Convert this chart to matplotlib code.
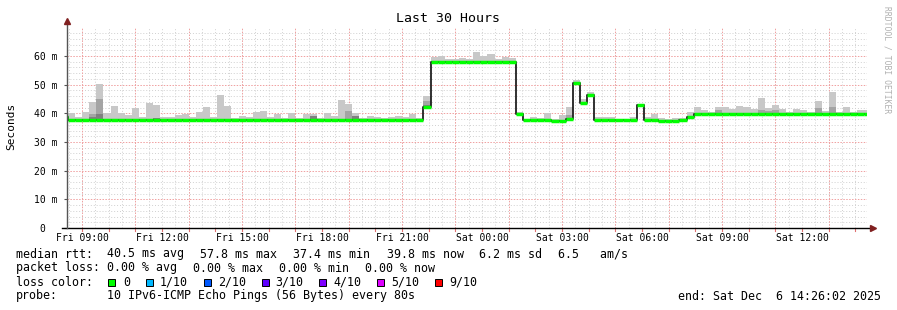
import numpy as np
import matplotlib
matplotlib.use('Agg')
import matplotlib.pyplot as plt
from matplotlib.patches import Rectangle

W, H = 897, 310
MONO = 'DejaVu Sans Mono'

# graph covers 30 hours ending Sat 14:26:02, rrd bins are 16 minutes,
# first bin boundary falls 118 s after the graph start
SPAN_HOURS = 30
START_HOUR = 8 + 26 / 60 + 2 / 3600      # Fri 08:26:02, hours after Fri 00:00
BIN_HOURS = 16 / 60
FIRST_EDGE = 118 / 3600

rtt_median = [
    38.6, 37.5, 37.5, 37.5, 37.5, 37.5, 37.5, 37.5, 37.5, 37.5,
    37.5, 37.5, 37.5, 37.5, 37.5, 37.5, 37.5, 37.5, 37.5, 37.5,
    37.5, 37.5, 37.5, 37.5, 37.5, 37.5, 37.5, 37.5, 37.5, 37.5,
    37.5, 37.5, 37.5, 37.5, 37.5, 37.5, 37.5, 37.5, 37.5, 37.5,
    37.5, 37.5, 37.5, 37.5, 37.5, 37.5, 37.5, 37.5, 37.5, 37.5,
    37.5, 42.2, 57.8, 57.8, 57.8, 57.8, 57.8, 57.8, 57.8, 57.8,
    57.8, 57.8, 57.8, 57.8, 39.9, 37.5, 37.5, 37.5, 37.5, 37.3,
    37.3, 37.9, 50.5, 43.5, 46.3, 37.5, 37.5, 37.5, 37.5, 37.5,
    37.5, 42.8, 37.5, 37.5, 37.4, 37.4, 37.4, 37.8, 38.6, 39.8,
    39.8, 39.8, 39.9, 39.9, 39.9, 39.9, 39.9, 39.9, 39.9, 39.9,
    39.9, 39.9, 39.9, 39.9, 39.9, 39.9, 39.9, 39.8, 39.8, 39.8,
    39.8, 39.8, 39.8, 39.8,
]
rtt_max = [
    40.0, 40.0, 38.6, 40.6, 44.1, 50.2, 40.0, 42.5, 40.0, 39.4,
    42.0, 38.6, 43.7, 42.9, 38.8, 38.8, 39.4, 39.6, 38.6, 40.6,
    42.3, 38.6, 46.4, 42.5, 38.5, 38.9, 38.6, 40.6, 40.8, 38.7,
    39.9, 38.5, 40.2, 38.5, 39.8, 39.8, 38.5, 40.2, 39.1, 44.6,
    43.2, 40.2, 38.5, 39.2, 38.7, 38.4, 38.7, 39.2, 38.7, 39.6,
    38.5, 46.1, 59.8, 60.1, 58.9, 58.9, 59.4, 58.8, 61.4, 60.1,
    60.6, 58.9, 59.8, 59.3, 40.3, 38.0, 38.8, 38.3, 40.1, 37.9,
    39.4, 42.2, 51.6, 45.0, 47.4, 38.7, 38.8, 38.8, 38.1, 38.1,
    38.8, 43.2, 38.7, 39.9, 38.4, 38.1, 38.4, 38.4, 40.5, 42.3,
    41.2, 40.4, 42.3, 42.3, 41.5, 42.5, 42.3, 41.6, 45.4, 42.0,
    42.9, 41.6, 40.6, 41.6, 41.2, 40.6, 44.3, 40.8, 47.4, 40.6,
    42.2, 40.6, 41.2, 41.0,
]
# bins where the inner (darker) smoke bands show
mid_bins = [4, 5, 13, 35, 40, 41, 51, 71, 92, 98, 99, 100, 106, 108]
mid_top = [39.6, 45.0, 38.4, 39.2, 40.8, 39.0, 44.3, 39.4, 41.0, 41.2, 40.9, 41.2, 41.8, 42.3]
dark_bins = [4, 5, 13, 35, 41, 51]
dark_top = [38.6, 39.8, 38.2, 38.9, 38.9, 43.0]

time_labels = ['Fri 09:00', 'Fri 12:00', 'Fri 15:00', 'Fri 18:00', 'Fri 21:00',
               'Sat 00:00', 'Sat 03:00', 'Sat 06:00', 'Sat 09:00', 'Sat 12:00']
time_label_hours = [9, 12, 15, 18, 21, 24, 27, 30, 33, 36]
y_ticks = [0, 10, 20, 30, 40, 50, 60]
y_labels = ['0  ', '10 m', '20 m', '30 m', '40 m', '50 m', '60 m']

loss_labels = ['0', '1/10', '2/10', '3/10', '4/10', '5/10', '9/10']
loss_colors = ['#00ff00', '#00b8ff', '#0059ff', '#5e00ff', '#7e00ff', '#dd00ff', '#ff0000']


def fx(x):
    return x / W


def fy(y):
    return 1 - y / H


fig = plt.figure(figsize=(W / 100, H / 100), dpi=100)
fig.patch.set_facecolor('white')
ax = fig.add_axes([fx(67), fy(228), 800 / W, (228 - 27.3) / H])
ax.set_xlim(0, SPAN_HOURS)
ax.set_ylim(0, 70)
for s in ax.spines.values():
    s.set_visible(False)

# grid
minor_x = np.arange(0.5 - (START_HOUR % 0.5), SPAN_HOURS, 0.5)
major_x = np.arange(9 - START_HOUR, SPAN_HOURS, 2)
for x in minor_x:
    ax.axvline(x, color='#d0d0d0', lw=0.7, ls=(0, (1, 2)), zorder=0)
for y in range(2, 70, 2):
    if y % 10:
        ax.axhline(y, color='#d0d0d0', lw=0.7, ls=(0, (1, 2)), zorder=0)
for x in major_x:
    ax.axvline(x, color='#f0a0a0', lw=0.7, ls=(0, (1.5, 1.5)), zorder=0.5)
for y in y_ticks[1:]:
    ax.axhline(y, color='#f0a0a0', lw=0.7, ls=(0, (1.5, 1.5)), zorder=0.5)

# smoke
med = np.array(rtt_median)
hi = np.array(rtt_max)
left = FIRST_EDGE - BIN_HOURS + BIN_HOURS * np.arange(len(med))
ax.bar(left, hi - med, bottom=med, width=BIN_HOURS, align='edge',
       color='#c8c8c8', linewidth=0, zorder=2)
mb = np.array(mid_bins)
ax.bar(left[mb], np.array(mid_top) - med[mb], bottom=med[mb], width=BIN_HOURS,
       align='edge', color='#a4a4a4', linewidth=0, zorder=2.1)
db = np.array(dark_bins)
ax.bar(left[db], np.array(dark_top) - med[db], bottom=med[db], width=BIN_HOURS,
       align='edge', color='#808080', linewidth=0, zorder=2.2)

# median line: dark risers, green treads
edges = np.append(left, left[-1] + BIN_HOURS)
ax.step(edges, np.append(med, med[-1]), where='post', color='#202020', lw=1.3, zorder=3)
ax.hlines(med, left, left + BIN_HOURS, color='#00ff00', lw=2.5, zorder=4)

# axes lines and arrows
ax.plot([-5 / 800 * SPAN_HOURS, SPAN_HOURS + 5 / 800 * SPAN_HOURS], [0, 0],
        color='black', lw=1, clip_on=False, zorder=5)
ax.plot([0, 0], [0, 72], color='#555555', lw=1, clip_on=False, zorder=5)
ax.plot([SPAN_HOURS + 5.5 / 800 * SPAN_HOURS], [0], marker='>', ms=4, color='#802020',
        clip_on=False, zorder=6)
ax.plot([0], [72.2], marker='^', ms=4, color='#802020', clip_on=False, zorder=6)
for h in np.arange(1 - (START_HOUR % 1), SPAN_HOURS, 1):
    ax.plot([h, h], [0, -0.9], color='#e07070', lw=0.8, clip_on=False)

# ticks and labels
ax.set_xticks([h - START_HOUR for h in time_label_hours])
ax.set_xticklabels(time_labels, family=MONO, fontsize=7)
ax.set_yticks(y_ticks)
ax.set_yticklabels(y_labels, family=MONO, fontsize=7)
ax.tick_params(axis='x', length=0, pad=3.5)
ax.tick_params(axis='y', length=2, width=0.8, color='#555555', pad=4.5)

fig.text(fx(448), fy(19), 'Last 30 Hours', ha='center', va='center', family=MONO, fontsize=9.5)
fig.text(fx(11), fy(126), 'Seconds', ha='center', va='center', rotation=90, family=MONO, fontsize=8)
fig.text(fx(887), fy(60), 'RRDTOOL / TOBI OETIKER', ha='center', va='center', rotation=270,
         family=MONO, fontsize=5.8, color='#b0b0b0')

# legend
LS = 8.4
rows = [
    (254, [(16, 'median rtt:'), (107, '40.5 ms avg'), (200, '57.8 ms max'),
           (293, '37.4 ms min'), (387, '39.8 ms now'), (479, '6.2 ms sd'), (558, '6.5   am/s')]),
    (268, [(16, 'packet loss:'), (107, '0.00 % avg'), (193, '0.00 % max'),
           (279, '0.00 % min'), (365, '0.00 % now')]),
    (282, [(16, 'loss color:')]),
    (296, [(16, 'probe:'), (107, '10 IPv6-ICMP Echo Pings (56 Bytes) every 80s')]),
]
for y, items in rows:
    for x, s in items:
        fig.text(fx(x), fy(y), s, ha='left', va='center', family=MONO, fontsize=LS)

box_x = [108] + [146 + 57.8 * k for k in range(6)]
for bx, lab, col in zip(box_x, loss_labels, loss_colors):
    fig.patches.append(Rectangle((fx(bx), fy(285.5)), 7 / W, 7 / H, transform=fig.transFigure,
                                 facecolor=col, edgecolor='black', lw=0.7, figure=fig))
    fig.text(fx(bx + 14 if lab != '0' else bx + 15), fy(282), lab, ha='left', va='center',
             family=MONO, fontsize=LS)

fig.text(fx(881), fy(296), 'end: Sat Dec  6 14:26:02 2025', ha='right', va='center',
         family=MONO, fontsize=LS)

fig.savefig('out.png', dpi=100)
